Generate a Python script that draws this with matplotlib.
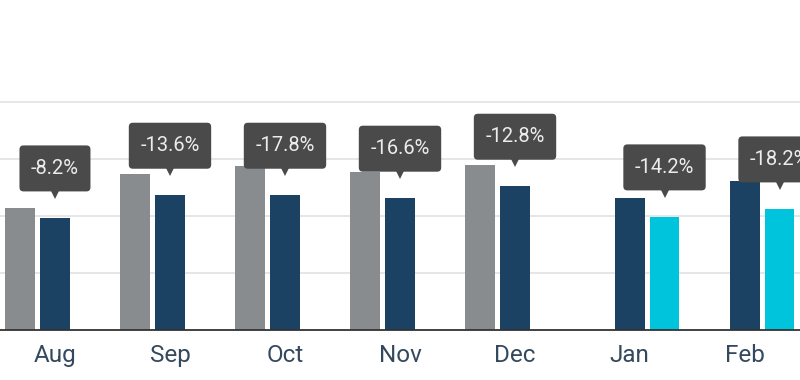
import numpy as np
import matplotlib
matplotlib.use('Agg')
import matplotlib.pyplot as plt
from matplotlib.patches import BoxStyle
from matplotlib.transforms import offset_copy

plt.rcParams['font.family'] = ['Roboto', 'DejaVu Sans']

# monthly values, two bars per month (earlier year on the left)
months = ['Aug', 'Sep', 'Oct', 'Nov', 'Dec', 'Jan', 'Feb']
year_a = [107.3, 136.8, 144.1, 138.6, 144.7, np.nan, np.nan]   # grey
year_b = [98.5, 118.4, 118.4, 115.8, 126.3, 115.8, 130.7]      # navy
year_c = [np.nan, np.nan, np.nan, np.nan, np.nan, 99.4, 106.4]  # cyan
changes = ['-8.2%', '-13.6%', '-17.8%', '-16.6%', '-12.8%', '-14.2%', '-18.2%']

grey = '#898c8e'
navy = '#1b4262'
cyan = '#00c3dc'
box = '#4a4a4a'

round_box = BoxStyle.Round(pad=0, rounding_size=0.2)


def callout_box(x0, y0, width, height, mutation_size):
    # wider vertical padding than horizontal
    px, py = 11.5, 13.5
    return round_box(x0 - px, y0 - py, width + 2 * px, height + 2 * py,
                     mutation_size)


fig = plt.figure(figsize=(8, 3.8), dpi=100)
ax = fig.add_axes([0, 50 / 380, 1, 330 / 380])

# small gap between the two years
gap = np.array([0.3 if m in ('Jan', 'Feb') else 0 for m in months])
xpos = np.arange(len(months)) + gap
w = 0.26
off = 0.152

ticks = []
for i, m in enumerate(months):
    if np.isnan(year_a[i]):
        left, right = year_b[i], year_c[i]
        lc, rc = navy, cyan
        ticks.append(xpos[i] - off)
    else:
        left, right = year_a[i], year_b[i]
        lc, rc = grey, navy
        ticks.append(xpos[i] + off)
    ax.bar(xpos[i] - off, left, w, color=lc, zorder=3)
    ax.bar(xpos[i] + off, right, w, color=rc, zorder=3)

    # callout over the right bar
    ax.annotate(changes[i], xy=(xpos[i] + off, right), xytext=(0, 35.5),
                textcoords='offset points', ha='center', va='center',
                fontsize=14.5, color='#ececec', zorder=6,
                bbox=dict(boxstyle=callout_box, fc=box, ec='none'))
    tr = offset_copy(ax.transData, fig=fig, x=0, y=24, units='dots')
    ax.plot(xpos[i] + off, right, marker='v', markersize=7, color=box,
            markeredgewidth=0, transform=tr, zorder=5, clip_on=False)

ax.set_xlim(-0.326, 6.63)
ax.set_ylim(0, 289.5)
ax.set_yticks([50, 100, 150, 200])
ax.yaxis.grid(True, color='#e2e2e2', linewidth=1.2, zorder=0)
ax.tick_params(axis='y', left=False, labelleft=False)
ax.set_xticks(ticks)
ax.set_xticklabels(months, fontsize=17.5, color='#34495e')
ax.tick_params(axis='x', length=0, pad=10)
for s in ['top', 'left', 'right']:
    ax.spines[s].set_visible(False)
ax.spines['bottom'].set_color('#333333')
ax.spines['bottom'].set_linewidth(1.3)
ax.spines['bottom'].set_zorder(4)

fig.savefig('out.png', dpi=100)
